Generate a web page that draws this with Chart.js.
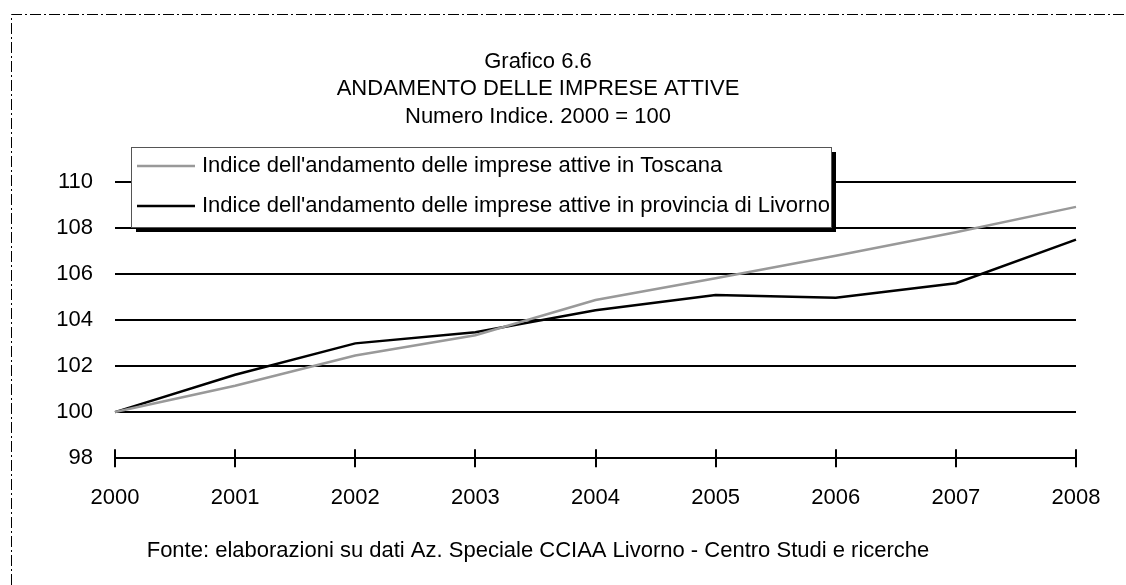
<!DOCTYPE html>
<html>
<head>
<meta charset="utf-8">
<script src="https://cdn.jsdelivr.net/npm/chart.js@4"></script>
<style>
  html, body { margin: 0; padding: 0; background: #fff; }
  #wrap { width: 1126px; height: 585px; }
</style>
</head>
<body>
<div id="wrap"><canvas id="chart" width="1126" height="585"></canvas></div>
<script>
const years = ['2000', '2001', '2002', '2003', '2004', '2005', '2006', '2007', '2008']
const toscana = [100, 101.14, 102.45, 103.33, 104.86, 105.8, 106.78, 107.8, 108.9]
const livorno = [100, 101.62, 102.98, 103.46, 104.42, 105.08, 104.96, 105.59, 107.48]
const seriesNames = [
  "Indice dell'andamento delle imprese attive in Toscana",
  "Indice dell'andamento delle imprese attive in provincia di Livorno",
]
const titleLines = ['Grafico 6.6', 'ANDAMENTO DELLE IMPRESE ATTIVE', 'Numero Indice. 2000 = 100']
const sourceNote = 'Fonte: elaborazioni su dati Az. Speciale CCIAA Livorno - Centro Studi e ricerche'

const FONT = "'Liberation Sans', Arial, sans-serif"
Chart.defaults.font.family = FONT
Chart.defaults.color = '#000'

// white page + dash-dot frame
const frame = {
  id: 'frame',
  beforeDraw(chart) {
    const { ctx, width, height } = chart
    ctx.save()
    ctx.fillStyle = '#fff'
    ctx.fillRect(0, 0, width, height)
    ctx.strokeStyle = '#000'
    ctx.lineWidth = 1
    ctx.setLineDash([11, 3, 2, 3])
    ctx.beginPath()
    ctx.moveTo(11.5, height)
    ctx.lineTo(11.5, 14.5)
    ctx.lineTo(width, 14.5)
    ctx.stroke()
    ctx.restore()
  },
}

// x ticks crossing the axis line
const crossTicks = {
  id: 'crossTicks',
  afterDatasetsDraw(chart) {
    const { ctx, scales: { x, y } } = chart
    const y0 = y.getPixelForValue(98)
    ctx.save()
    ctx.strokeStyle = '#000'
    ctx.lineWidth = 2
    x.ticks.forEach((t, i) => {
      const px = Math.round(x.getPixelForTick(i))
      ctx.beginPath()
      ctx.moveTo(px, y0 - 9)
      ctx.lineTo(px, y0 + 9)
      ctx.stroke()
    })
    ctx.restore()
  },
}

// boxed legend with drop shadow, overlapping the plot
const boxLegend = {
  id: 'boxLegend',
  afterDraw(chart) {
    const { ctx } = chart
    const bx = 131, by = 147, bw = 700, bh = 80
    ctx.save()
    ctx.fillStyle = '#000'
    ctx.fillRect(bx + 5, by + 5, bw, bh)
    ctx.fillStyle = '#fff'
    ctx.fillRect(bx, by, bw, bh)
    ctx.strokeStyle = '#555'
    ctx.lineWidth = 1
    ctx.strokeRect(bx + 0.5, by + 0.5, bw, bh)
    ctx.font = '22px ' + FONT
    ctx.textBaseline = 'middle'
    chart.data.datasets.forEach((ds, i) => {
      const ly = by + 19 + i * 40
      ctx.strokeStyle = ds.borderColor
      ctx.lineWidth = 2.5
      ctx.beginPath()
      ctx.moveTo(bx + 6, ly)
      ctx.lineTo(bx + 64, ly)
      ctx.stroke()
      ctx.fillStyle = '#000'
      ctx.fillText(ds.label, bx + 71, ly)
    })
    ctx.restore()
  },
}

new Chart(document.getElementById('chart'), {
  type: 'line',
  data: {
    labels: years,
    datasets: [
      { label: seriesNames[0], data: toscana, borderColor: '#999999', borderWidth: 2.5, pointRadius: 0, tension: 0 },
      { label: seriesNames[1], data: livorno, borderColor: '#000000', borderWidth: 2.5, pointRadius: 0, tension: 0 },
    ],
  },
  options: {
    responsive: false,
    animation: false,
    layout: { padding: { left: 0, right: 50, top: 0, bottom: 21 } },
    plugins: {
      legend: { display: false },
      tooltip: { enabled: false },
      title: {
        display: true,
        text: titleLines,
        color: '#000',
        font: { size: 22, weight: 'normal', lineHeight: 1.25 },
        padding: { top: 48, bottom: 51 },
      },
      subtitle: {
        display: true,
        position: 'bottom',
        text: sourceNote,
        color: '#000',
        font: { size: 22, weight: 'normal' },
        padding: { top: 7, bottom: 0 },
      },
    },
    scales: {
      x: {
        offset: false,
        grid: { display: false },
        border: { display: true, color: '#000', width: 2 },
        ticks: { font: { size: 22 }, padding: 19, maxRotation: 0 },
      },
      y: {
        min: 98,
        max: 110,
        afterFit: (s) => { s.width = 115 },
        grid: { color: '#000', lineWidth: 2, drawTicks: false },
        border: { display: false },
        ticks: { stepSize: 2, font: { size: 22 }, padding: 22 },
      },
    },
  },
  plugins: [frame, crossTicks, boxLegend],
})
</script>
</body>
</html>
